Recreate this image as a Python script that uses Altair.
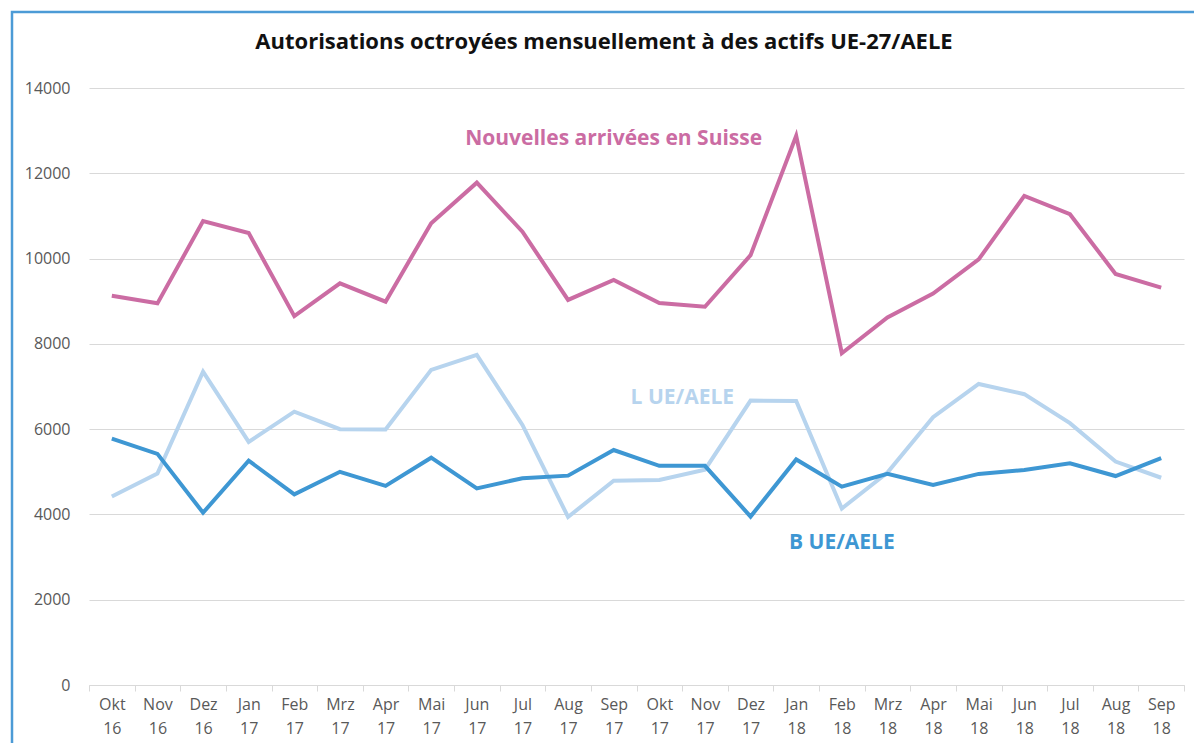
import altair as alt
import pandas as pd

months = ["Okt 16", "Nov 16", "Dez 16", "Jan 17", "Feb 17", "Mrz 17", "Apr 17", "Mai 17",
          "Jun 17", "Jul 17", "Aug 17", "Sep 17", "Okt 17", "Nov 17", "Dez 17", "Jan 18",
          "Feb 18", "Mrz 18", "Apr 18", "Mai 18", "Jun 18", "Jul 18", "Aug 18", "Sep 18"]

nouvelles = [9130, 8950, 10880, 10600, 8650, 9420, 8990, 10830, 11780, 10630, 9030, 9500,
             8960, 8870, 10080, 12880, 7780, 8620, 9180, 9980, 11470, 11040, 9640, 9320]
l_ue = [4420, 4960, 7350, 5700, 6410, 6000, 5990, 7390, 7740, 6100, 3940, 4790,
        4810, 5050, 6670, 6660, 4140, 4980, 6280, 7060, 6820, 6140, 5240, 4860]
b_ue = [5780, 5420, 4040, 5260, 4470, 5000, 4670, 5330, 4610, 4850, 4910, 5510,
        5140, 5140, 3950, 5290, 4650, 4950, 4690, 4950, 5040, 5200, 4900, 5320]

series_names = ["Nouvelles arrivées en Suisse", "L UE/AELE", "B UE/AELE"]
series_colors = ["#CB6CA3", "#B7D4EE", "#3E97D3"]

title_text = "Autorisations octroyées mensuellement à des actifs UE-27/AELE"

label_text = ["Nouvelles arrivées en Suisse", "L UE/AELE", "B UE/AELE"]
label_month = ["Sep 17", "Okt 17", "Feb 18"]
label_value = [12800, 6730, 3330]
label_dx = [0, 23, 0]

rows = []
for name, vals in zip(series_names, [nouvelles, l_ue, b_ue]):
    for m, v in zip(months, vals):
        rows.append({"Mois": m, "Valeur": v, "Série": name})
df = pd.DataFrame(rows)

labels_df = pd.DataFrame({"Texte": label_text, "Mois": label_month,
                          "Valeur": label_value, "Série": label_text, "dx": label_dx})

W, H = 1095, 597

x_enc = alt.X("Mois:N", sort=months, bandPosition=0.5,
              scale=alt.Scale(type="band", paddingInner=0, paddingOuter=0),
              axis=alt.Axis(title=None, labelAngle=0, labelExpr="split(datum.label, ' ')",
                            tickBand="extent", domainColor="#d9d9d9", tickColor="#d9d9d9",
                            tickSize=6, grid=False, labelFontSize=16, labelColor="#595959",
                            labelLineHeight=24, labelPadding=5, labelFont="Open Sans"))
y_enc = alt.Y("Valeur:Q", scale=alt.Scale(domain=[0, 14000], nice=False),
              axis=alt.Axis(title=None, values=list(range(0, 14001, 2000)), domain=False,
                            format="d", ticks=False, gridColor="#d9d9d9", labelFontSize=16,
                            labelColor="#595959", labelPadding=19, labelFont="Open Sans"))
color_enc = alt.Color("Série:N", scale=alt.Scale(domain=series_names, range=series_colors),
                      legend=None)

border = alt.Chart(pd.DataFrame({"a": [0]})).mark_rect(
    fill=None, stroke="#4C9BD6", strokeWidth=2.5
).encode(x=alt.value(-77), x2=alt.value(W + 40), y=alt.value(-76), y2=alt.value(H + 100))

title = alt.Chart(pd.DataFrame({"t": [title_text]})).mark_text(
    font="Open Sans", fontSize=22, fontWeight="bold", color="#111111"
).encode(x=alt.value(515), y=alt.value(-46), text="t:N")

lines = alt.Chart(df).mark_line(strokeWidth=4).encode(
    x=x_enc, y=y_enc, color=color_enc, detail="Série:N")

texts = []
for i in range(len(label_text)):
    texts.append(alt.Chart(labels_df.iloc[[i]]).mark_text(
        font="Open Sans", fontWeight="bold", fontSize=21, dx=label_dx[i]
    ).encode(x=alt.X("Mois:N", sort=months, bandPosition=0.5), y="Valeur:Q",
             text="Texte:N", color=color_enc))

chart = alt.layer(border, title, lines, *texts).properties(
    width=W, height=H,
    autosize=alt.AutoSizeParams(type="none"),
    padding={"left": 81, "top": 80, "right": 10, "bottom": 58},
).configure_view(stroke=None)

chart.save("out.html", embed_options={"renderer": "svg", "actions": False})
